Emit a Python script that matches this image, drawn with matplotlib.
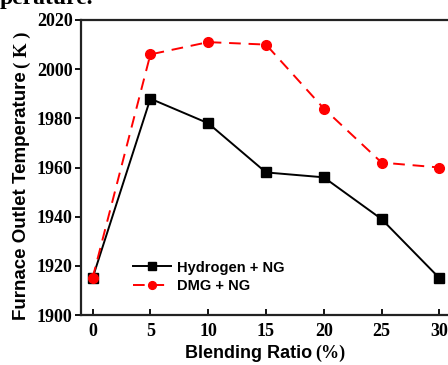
import matplotlib
matplotlib.use("Agg")
import matplotlib.pyplot as plt

ratio = [0, 5, 10, 15, 20, 25, 30]
hydrogen_ng = [1915, 1988, 1978, 1958, 1956, 1939, 1915]
dmg_ng = [1915, 2006, 2011, 2010, 1984, 1962, 1960]
yticks = [1900, 1920, 1940, 1960, 1980, 2000, 2020]

W, H = 448, 365
fig = plt.figure(figsize=(W / 100, H / 100), dpi=100)
ax = fig.add_axes([81 / W, 1 - 315 / H, (451 - 81) / W, (315 - 20) / H])

ax.plot(ratio, hydrogen_ng, color="black", lw=1.4, marker="s", ms=6.5,
        label="Hydrogen + NG", zorder=3)
ax.plot(ratio, dmg_ng, color="red", lw=1.4, ls=(0, (6, 4)), marker="o", ms=7,
        label="DMG + NG", zorder=3)

ax.set_xlim(-1, 31)
ax.set_ylim(1900, 2020)
ax.set_xticks(ratio)
ax.set_yticks(yticks)
serif = "Liberation Serif"
for lab in ax.get_xticklabels() + ax.get_yticklabels():
    lab.set_fontfamily(serif)
    lab.set_fontweight("bold")
    lab.set_fontsize(13)
ax.tick_params(axis="x", direction="in", length=4, width=1.3, pad=6)
ax.tick_params(axis="y", direction="out", length=4, width=1.3, pad=2)
for s in ax.spines.values():
    s.set_linewidth(1.6)
    s.set_color("#222222")

# axis labels (sans bold text + serif bold units)
fig.text(312 / W, 1 - 358 / H, "Blending Ratio", family="Liberation Sans",
         weight="bold", fontsize=13, ha="right", va="baseline")
fig.text(315 / W, 1 - 358 / H, "(%)", family=serif, weight="bold",
         fontsize=13, ha="left", va="baseline")
t1 = fig.text(22 / W, 1 - 320 / H, "Furnace Outlet Temperature", family="Liberation Sans",
              weight="bold", fontsize=13.5, rotation=90, ha="center", va="bottom")
fig.canvas.draw()
bb = t1.get_window_extent()
top_frac = (bb.y1 + 3) / H
fig.text(22 / W, top_frac, "( K )", family=serif, weight="bold",
         fontsize=13.5, rotation=90, ha="center", va="bottom")

fig.text(0 / W, 1 - 4 / H, "perature.", family=serif, weight="bold",
         fontsize=17, ha="left", va="baseline")

leg = ax.legend(loc="lower left", bbox_to_anchor=(0.125, 0.055), frameon=False,
                prop={"family": "Liberation Sans", "weight": "bold", "size": 10.5},
                handlelength=2.6, handletextpad=0.4, labelspacing=0.3,
                borderaxespad=0, markerscale=0.8)

fig.savefig("out.png", dpi=100)
